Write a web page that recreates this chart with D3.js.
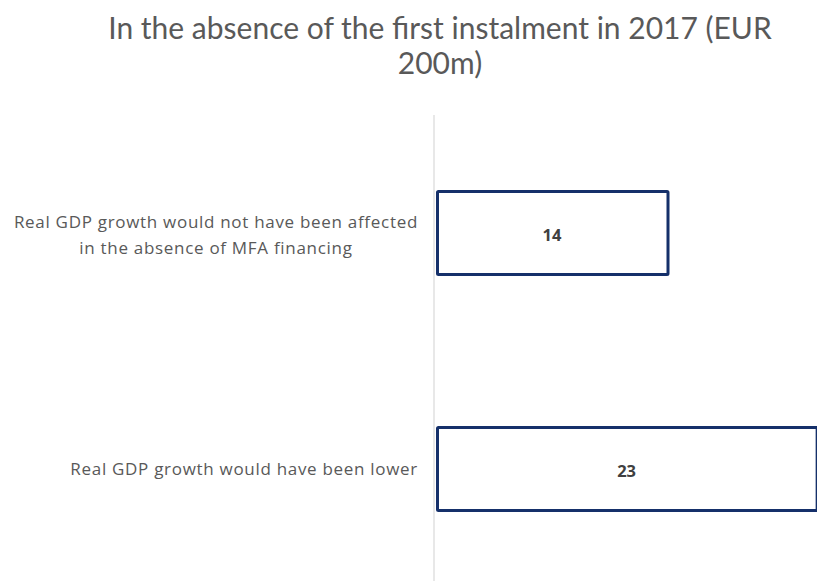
<!DOCTYPE html>
<html>
<head>
<meta charset="utf-8">
<script src="https://cdn.jsdelivr.net/npm/d3@7"></script>
<style>
  html, body { margin: 0; padding: 0; background: #fff; }
  svg { display: block; }
</style>
</head>
<body>
<svg id="chart" width="817" height="581"></svg>
<script>
// Survey responses: counts per answer
const categories = [
  ["Real GDP growth would not have been affected", "in the absence of MFA financing"],
  ["Real GDP growth would have been lower"]
];
const values = [14, 23];
const titleLines = ["In the absence of the first instalment in 2017 (EUR", "200m)"];

const W = 817, H = 581;
const margin = { top: 115, left: 436 };
const svg = d3.select("#chart");

// Title
svg.append("g")
  .selectAll("text")
  .data(titleLines)
  .join("text")
  .attr("x", 440)
  .attr("y", (d, i) => 39 + i * 35)
  .attr("text-anchor", "middle")
  .attr("font-family", "Lato, 'Open Sans', sans-serif")
  .attr("font-size", 30)
  .attr("fill", "#595959")
  .text(d => d);

const y = d3.scaleBand()
  .domain(d3.range(categories.length))
  .range([margin.top, margin.top + 472])
  .paddingInner(0.635)
  .paddingOuter(0.318);

const x = d3.scaleLinear()
  .domain([0, 14])
  .range([margin.left, margin.left + 232]);

// Vertical category axis line
svg.append("line")
  .attr("x1", margin.left - 2).attr("x2", margin.left - 2)
  .attr("y1", margin.top).attr("y2", H)
  .attr("stroke", "#d9d9d9")
  .attr("stroke-width", 1.2);

// Bars
svg.append("g")
  .selectAll("rect")
  .data(values)
  .join("rect")
  .attr("x", x(0) + 1.5)
  .attr("y", (d, i) => y(i) + 1.5)
  .attr("width", d => x(d) - x(0) - 1.5)
  .attr("height", y.bandwidth() - 3)
  .attr("fill", "#ffffff")
  .attr("stroke", "#15306a")
  .attr("stroke-width", 3)
  .attr("rx", 1);

// Value labels
svg.append("g")
  .selectAll("text")
  .data(values)
  .join("text")
  .attr("x", d => (x(0) + x(d)) / 2)
  .attr("y", (d, i) => y(i) + y.bandwidth() / 2 + 8)
  .attr("text-anchor", "middle")
  .attr("font-family", "'Open Sans', sans-serif")
  .attr("font-weight", "bold")
  .attr("font-size", 16.5)
  .attr("fill", "#404040")
  .text(d => d);

// Category labels: block right-aligned to the axis, lines centred within the block
const labelRight = 418;
const lineH = 26;
const catG = svg.append("g");
categories.forEach((lines, i) => {
  const g = catG.append("g");
  const cy = y(i) + y.bandwidth() / 2;
  const t = g.selectAll("text")
    .data(lines)
    .join("text")
    .attr("y", (d, j) => cy + (lines.length > 1 ? 8 : 6) + (j - (lines.length - 1) / 2) * lineH)
    .attr("text-anchor", "middle")
    .attr("font-family", "'Open Sans', sans-serif")
    .attr("font-size", 17)
    .attr("letter-spacing", 0.7)
    .attr("fill", "#595959")
    .text(d => d);
  const widths = t.nodes().map(n => n.getComputedTextLength());
  const blockW = d3.max(widths);
  t.attr("x", labelRight - blockW / 2);
});
</script>
</body>
</html>
